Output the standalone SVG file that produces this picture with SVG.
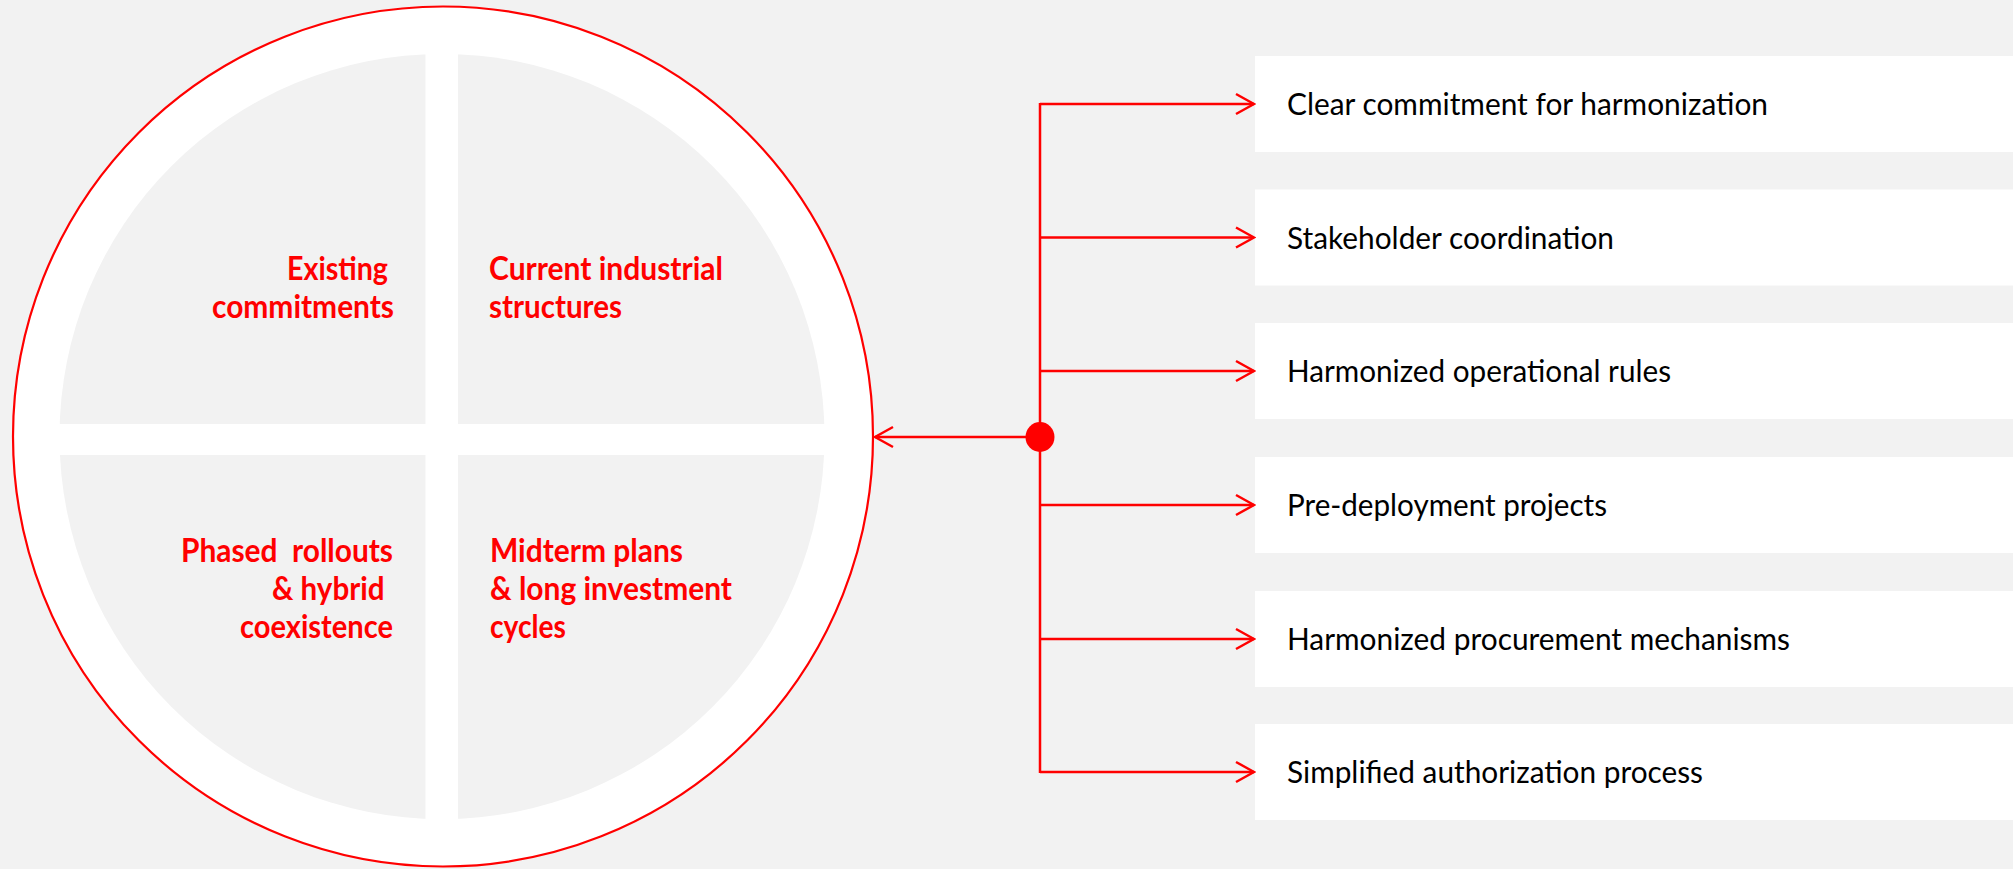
<svg xmlns="http://www.w3.org/2000/svg" width="2013" height="869" viewBox="0 0 2013 869">
  <defs>
    <style>
      .bg { fill: #f2f2f2; }
      .ring { fill: #ffffff; stroke: #ff0000; stroke-width: 2.2; }
      .inner { fill: #f2f2f2; }
      .bar { fill: #ffffff; }
      .lbl { font-family: Lato, "Open Sans", sans-serif; font-weight: bold; font-size: 33px; fill: #ff0000; }
      .box { fill: #ffffff; }
      .btxt { font-family: Lato, "Open Sans", sans-serif; font-size: 31px; fill: #000000; }
      .conn { stroke: #ff0000; stroke-width: 2.5; fill: none; }
    </style>
    <marker id="arr" markerUnits="userSpaceOnUse" markerWidth="24" markerHeight="24" viewBox="-22 -12 24 24" refX="0" refY="0" orient="auto">
      <path d="M-18,-10 L0,0 L-18,10" fill="none" stroke="#ff0000" stroke-width="2.5"/>
    </marker>
  </defs>

  <rect class="bg" x="0" y="0" width="2013" height="869"/>

  <g id="wheel">
    <circle class="ring" cx="443" cy="436.5" r="430"/>
    <circle class="inner" cx="442" cy="436.5" r="382.5"/>
    <rect class="bar" x="425.5" y="40" width="32.5" height="800"/>
    <rect class="bar" x="40" y="424" width="800" height="31"/>
  </g>

  <g id="q-existing">
    <text class="lbl" x="388" y="280" text-anchor="end" textLength="101" lengthAdjust="spacingAndGlyphs">Existing</text>
    <text class="lbl" x="394" y="318" text-anchor="end" textLength="182" lengthAdjust="spacingAndGlyphs">commitments</text>
  </g>
  <g id="q-current">
    <text class="lbl" x="489" y="280" textLength="234" lengthAdjust="spacingAndGlyphs">Current industrial</text>
    <text class="lbl" x="489" y="318" textLength="133" lengthAdjust="spacingAndGlyphs">structures</text>
  </g>
  <g id="q-phased">
    <text class="lbl" x="393" y="562" text-anchor="end" textLength="212" lengthAdjust="spacingAndGlyphs" xml:space="preserve">Phased  rollouts</text>
    <text class="lbl" x="384.5" y="600" text-anchor="end" textLength="112.5" lengthAdjust="spacingAndGlyphs">&amp; hybrid</text>
    <text class="lbl" x="393" y="638" text-anchor="end" textLength="153" lengthAdjust="spacingAndGlyphs">coexistence</text>
  </g>
  <g id="q-midterm">
    <text class="lbl" x="490" y="562" textLength="193" lengthAdjust="spacingAndGlyphs">Midterm plans</text>
    <text class="lbl" x="490" y="600" textLength="242" lengthAdjust="spacingAndGlyphs">&amp; long investment</text>
    <text class="lbl" x="490" y="638" textLength="76" lengthAdjust="spacingAndGlyphs">cycles</text>
  </g>

  <g id="box1">
    <rect class="box" x="1255" y="56" width="758" height="96"/>
    <text class="btxt" x="1287" y="115" textLength="481" lengthAdjust="spacingAndGlyphs">Clear commitment for harmonization</text>
  </g>
  <g id="box2">
    <rect class="box" x="1255" y="189.5" width="758" height="96"/>
    <text class="btxt" x="1287" y="248.5" textLength="327" lengthAdjust="spacingAndGlyphs">Stakeholder coordination</text>
  </g>
  <g id="box3">
    <rect class="box" x="1255" y="323" width="758" height="96"/>
    <text class="btxt" x="1287" y="382" textLength="384" lengthAdjust="spacingAndGlyphs">Harmonized operational rules</text>
  </g>
  <g id="box4">
    <rect class="box" x="1255" y="457" width="758" height="96"/>
    <text class="btxt" x="1287" y="516" textLength="320" lengthAdjust="spacingAndGlyphs">Pre-deployment projects</text>
  </g>
  <g id="box5">
    <rect class="box" x="1255" y="591" width="758" height="96"/>
    <text class="btxt" x="1287" y="650" textLength="503" lengthAdjust="spacingAndGlyphs">Harmonized procurement mechanisms</text>
  </g>
  <g id="box6">
    <rect class="box" x="1255" y="724" width="758" height="96"/>
    <text class="btxt" x="1287" y="783" textLength="416" lengthAdjust="spacingAndGlyphs">Simplified authorization process</text>
  </g>

  <g id="connectors">
    <line class="conn" x1="1040" y1="103" x2="1040" y2="773"/>
    <line class="conn" x1="1040" y1="104" x2="1254" y2="104" marker-end="url(#arr)"/>
    <line class="conn" x1="1040" y1="237.5" x2="1254" y2="237.5" marker-end="url(#arr)"/>
    <line class="conn" x1="1040" y1="371" x2="1254" y2="371" marker-end="url(#arr)"/>
    <line class="conn" x1="1040" y1="505" x2="1254" y2="505" marker-end="url(#arr)"/>
    <line class="conn" x1="1040" y1="639" x2="1254" y2="639" marker-end="url(#arr)"/>
    <line class="conn" x1="1040" y1="772" x2="1254" y2="772" marker-end="url(#arr)"/>
    <line class="conn" x1="1040" y1="437" x2="875" y2="437" marker-end="url(#arr)"/>
    <ellipse cx="1040" cy="437" rx="14.5" ry="15" fill="#ff0000"/>
  </g>
</svg>
